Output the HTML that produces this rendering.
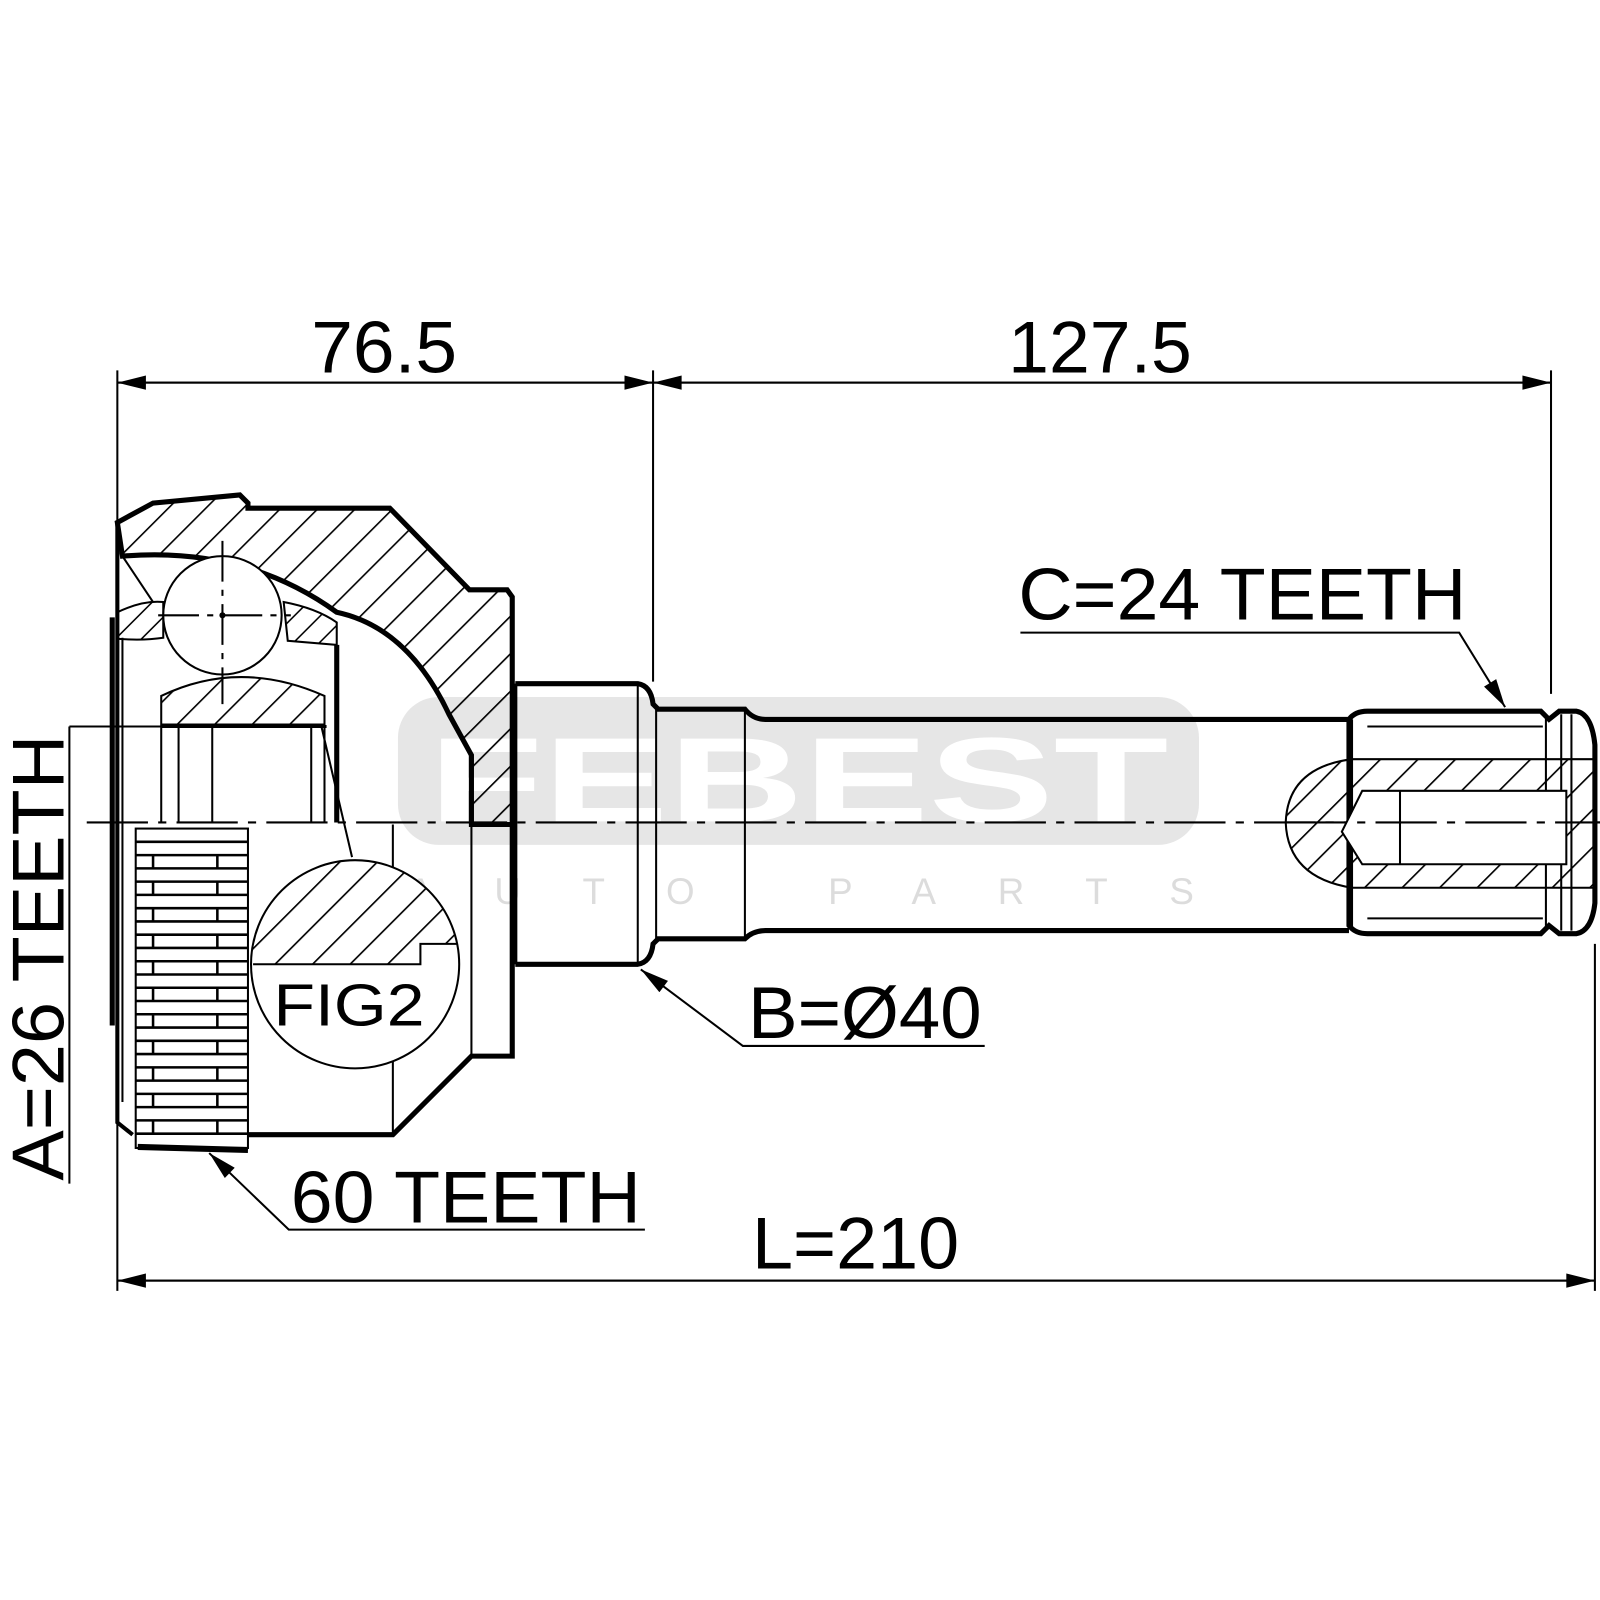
<!DOCTYPE html>
<html><head><meta charset="utf-8"><style>html,body{margin:0;padding:0;background:#fff}svg{display:block}</style></head>
<body>
<svg width="1600" height="1600" viewBox="0 0 1568 1568" xmlns="http://www.w3.org/2000/svg" font-family="Liberation Sans, Arial, sans-serif">
<defs>
<pattern id="h" width="26" height="26" patternUnits="userSpaceOnUse" patternTransform="rotate(45)">
<line x1="0" y1="0" x2="0" y2="26" stroke="#000" stroke-width="3.2"/>
</pattern>
<pattern id="h2" width="18" height="18" patternUnits="userSpaceOnUse" patternTransform="rotate(45)">
<line x1="0" y1="0" x2="0" y2="18" stroke="#000" stroke-width="3"/>
</pattern>
<marker id="ar" viewBox="0 0 20 10" refX="20" refY="5" markerWidth="46" markerHeight="14" markerUnits="userSpaceOnUse" orient="auto">
<path d="M0,0 L20,5 L0,10 Z" fill="#000"/>
</marker>
</defs>

<rect x="390" y="683" width="785" height="145" rx="40" fill="#e6e6e6"/>
<text x="420" y="805" font-size="118" font-weight="bold" fill="#fff" textLength="725" lengthAdjust="spacingAndGlyphs">FEBEST</text>
<text x="400" y="886" font-size="36" fill="#dcdcdc" textLength="770" lengthAdjust="spacing">AUTO  PARTS</text>

<g stroke="#000" fill="none" stroke-width="2">
<line x1="115" y1="363" x2="115" y2="1265"/>
<line x1="640" y1="363" x2="640" y2="668"/>
<line x1="1520" y1="363" x2="1520" y2="680"/>
<line x1="1563" y1="925" x2="1563" y2="1265"/>
<line x1="115" y1="375" x2="640" y2="375" marker-end="url(#ar)"/>
<line x1="640" y1="375" x2="115" y2="375" marker-end="url(#ar)"/>
<line x1="640" y1="375" x2="1520" y2="375" marker-end="url(#ar)"/>
<line x1="1520" y1="375" x2="640" y2="375" marker-end="url(#ar)"/>
<line x1="115" y1="1255" x2="1563" y2="1255" marker-end="url(#ar)"/>
<line x1="1563" y1="1255" x2="115" y2="1255" marker-end="url(#ar)"/>
<line x1="68" y1="712" x2="68" y2="1160"/>
<line x1="68" y1="712" x2="320" y2="712"/>
<line x1="85" y1="806" x2="1568" y2="806" stroke-dasharray="60,10,8,10"/>
</g>

<path d="M115,512 L150,493 L235,485 L243,493 L243,498 L382,498 L460,578 L497,578 L502,585 L502,808 L462,808 L462,740 L440,700 Q400,615 330,600 Q240,535 120,545 Z" fill="url(#h)" stroke="#000" stroke-width="5"/>
<path d="M115,600 Q140,588 160,590 L160,625 Q140,628 115,626 Z" fill="url(#h2)" stroke="#000" stroke-width="2"/>
<path d="M278,590 Q310,596 330,610 L330,632 L282,628 Z" fill="url(#h2)" stroke="#000" stroke-width="2"/>
<path d="M158,710 L158,682 Q235,645 318,682 L318,710 Z" fill="url(#h)" stroke="#000" stroke-width="2"/>
<circle cx="218" cy="603" r="58" fill="#fff" stroke="#000" stroke-width="2"/>
<g stroke="#000" stroke-width="2">
<line x1="218" y1="530" x2="218" y2="690" stroke-dasharray="40,8,6,8"/>
<line x1="155" y1="603" x2="285" y2="603" stroke-dasharray="40,8,6,8"/>
</g>
<circle cx="218" cy="603" r="3" fill="#000"/>

<g stroke="#000" fill="none">
<path d="M502,808 L502,1035 L462,1035 L385,1112 L243,1112" stroke-width="5"/>
<line x1="462" y1="808" x2="462" y2="1035" stroke-width="2"/>
<line x1="385" y1="808" x2="385" y2="1112" stroke-width="2"/>
<path d="M115,512 L115,1100 L130,1112" stroke-width="4"/>
<line x1="110" y1="605" x2="110" y2="1005" stroke-width="5"/>
<line x1="120" y1="625" x2="120" y2="1080" stroke-width="2"/>
<line x1="120" y1="545" x2="150" y2="590" stroke-width="2"/>
<line x1="158" y1="712" x2="158" y2="806" stroke-width="2"/>
<line x1="175" y1="712" x2="175" y2="806" stroke-width="2"/>
<line x1="208" y1="712" x2="208" y2="806" stroke-width="2"/>
<line x1="305" y1="712" x2="305" y2="806" stroke-width="2"/>
<line x1="318" y1="712" x2="318" y2="806" stroke-width="2"/>
<line x1="330" y1="632" x2="330" y2="806" stroke-width="5"/>
<line x1="158" y1="712" x2="320" y2="712" stroke-width="3"/>
<line x1="315" y1="712" x2="345" y2="840" stroke-width="2"/>
</g>

<rect x="133" y="812" width="110" height="313" fill="#fff" stroke="#000" stroke-width="2"/>
<g stroke="#000" stroke-width="2.5">
<line x1="133" y1="825" x2="243" y2="825"/><line x1="133" y1="838" x2="243" y2="838"/>
<line x1="133" y1="851" x2="243" y2="851"/><line x1="133" y1="864" x2="243" y2="864"/>
<line x1="133" y1="877" x2="243" y2="877"/><line x1="133" y1="890" x2="243" y2="890"/>
<line x1="133" y1="903" x2="243" y2="903"/><line x1="133" y1="916" x2="243" y2="916"/>
<line x1="133" y1="929" x2="243" y2="929"/><line x1="133" y1="942" x2="243" y2="942"/>
<line x1="133" y1="955" x2="243" y2="955"/><line x1="133" y1="968" x2="243" y2="968"/>
<line x1="133" y1="981" x2="243" y2="981"/><line x1="133" y1="994" x2="243" y2="994"/>
<line x1="133" y1="1007" x2="243" y2="1007"/><line x1="133" y1="1020" x2="243" y2="1020"/>
<line x1="133" y1="1033" x2="243" y2="1033"/><line x1="133" y1="1046" x2="243" y2="1046"/>
<line x1="133" y1="1059" x2="243" y2="1059"/><line x1="133" y1="1072" x2="243" y2="1072"/>
<line x1="133" y1="1085" x2="243" y2="1085"/><line x1="133" y1="1098" x2="243" y2="1098"/>
<line x1="133" y1="1111" x2="243" y2="1111"/>
<line x1="150" y1="838" x2="150" y2="851"/><line x1="213" y1="838" x2="213" y2="851"/>
<line x1="150" y1="864" x2="150" y2="877"/><line x1="213" y1="864" x2="213" y2="877"/>
<line x1="150" y1="890" x2="150" y2="903"/><line x1="213" y1="890" x2="213" y2="903"/>
<line x1="150" y1="916" x2="150" y2="929"/><line x1="213" y1="916" x2="213" y2="929"/>
<line x1="150" y1="942" x2="150" y2="955"/><line x1="213" y1="942" x2="213" y2="955"/>
<line x1="150" y1="968" x2="150" y2="981"/><line x1="213" y1="968" x2="213" y2="981"/>
<line x1="150" y1="994" x2="150" y2="1007"/><line x1="213" y1="994" x2="213" y2="1007"/>
<line x1="150" y1="1020" x2="150" y2="1033"/><line x1="213" y1="1020" x2="213" y2="1033"/>
<line x1="150" y1="1046" x2="150" y2="1059"/><line x1="213" y1="1046" x2="213" y2="1059"/>
<line x1="150" y1="1072" x2="150" y2="1085"/><line x1="213" y1="1072" x2="213" y2="1085"/>
<line x1="150" y1="1098" x2="150" y2="1111"/><line x1="213" y1="1098" x2="213" y2="1111"/>
</g>
<line x1="135" y1="1124" x2="243" y2="1127" stroke="#000" stroke-width="6"/>

<clipPath id="fc"><circle cx="348" cy="945" r="102"/></clipPath>
<circle cx="348" cy="945" r="102" fill="#fff" stroke="#000" stroke-width="2"/>
<path d="M240,945 L412,945 L412,925 L455,925 L455,830 L240,830 Z" fill="url(#h)" clip-path="url(#fc)" stroke="none"/>
<path d="M248,945 L412,945 L412,925 L448,925" fill="none" stroke="#000" stroke-width="2"/>
<text x="268" y="1005" font-size="58" textLength="148" lengthAdjust="spacingAndGlyphs">FIG2</text>

<g stroke="#000" fill="none">
<path d="M505,670 L625,670 Q638,672 640,690 L645,695 L730,695 Q738,705 750,705 L1322,705" stroke-width="5"/>
<path d="M505,945 L625,945 Q638,943 640,925 L645,920 L730,920 Q738,912 750,912 L1322,912" stroke-width="5"/>
<line x1="505" y1="670" x2="505" y2="945" stroke-width="4"/>
<line x1="625" y1="670" x2="625" y2="945" stroke-width="2"/>
<line x1="643" y1="695" x2="643" y2="920" stroke-width="2"/>
<line x1="730" y1="695" x2="730" y2="920" stroke-width="2"/>
<path d="M1322,705 Q1328,697 1340,697 L1510,697 L1518,705 L1528,697 L1545,697 Q1560,700 1563,730 L1563,885 Q1560,912 1545,915 L1528,915 L1518,907 L1510,915 L1340,915 Q1328,915 1322,907 Z" stroke-width="5" fill="#fff"/>
<line x1="1325" y1="705" x2="1325" y2="912" stroke-width="2"/>
<line x1="1340" y1="712" x2="1512" y2="712" stroke-width="2"/>
<line x1="1340" y1="900" x2="1512" y2="900" stroke-width="2"/>
<line x1="1515" y1="700" x2="1515" y2="912" stroke-width="2"/>
<line x1="1530" y1="700" x2="1530" y2="912" stroke-width="2"/>
<line x1="1540" y1="700" x2="1540" y2="912" stroke-width="2"/>
</g>
<path d="M1325,744 L1563,744 L1563,870 L1325,870 Q1262,860 1260,806 Q1262,752 1325,744 Z" fill="url(#h)" stroke="#000" stroke-width="2"/>
<path d="M1335,775 L1535,775 L1535,847 L1335,847 L1315,815 Z" fill="#fff" stroke="#000" stroke-width="2"/>
<line x1="1372" y1="775" x2="1372" y2="847" stroke="#000" stroke-width="2"/>
<line x1="1260" y1="806" x2="1568" y2="806" stroke="#000" stroke-width="2" stroke-dasharray="60,10,8,10"/>

<g stroke="#000" stroke-width="2" fill="none">
<polyline points="1000,620 1430,620 1475,693" marker-end="url(#ar)"/>
<polyline points="965,1025 728,1025 628,950" marker-end="url(#ar)"/>
<polyline points="632,1205 283,1205 205,1130" marker-end="url(#ar)"/>
</g>

<g font-size="72" fill="#000">
<text x="305" y="365" textLength="143" lengthAdjust="spacingAndGlyphs">76.5</text>
<text x="988" y="365" textLength="180" lengthAdjust="spacingAndGlyphs">127.5</text>
<text x="998" y="607" textLength="439" lengthAdjust="spacingAndGlyphs">C=24 TEETH</text>
<text x="733" y="1017" textLength="229" lengthAdjust="spacingAndGlyphs">B=Ø40</text>
<text x="285" y="1198" textLength="343" lengthAdjust="spacingAndGlyphs">60 TEETH</text>
<text x="737" y="1243" textLength="203" lengthAdjust="spacingAndGlyphs">L=210</text>
<text transform="translate(62,1157) rotate(-90)" x="0" y="0" textLength="437" lengthAdjust="spacingAndGlyphs">A=26 TEETH</text>
</g>
</svg>
</body></html>
